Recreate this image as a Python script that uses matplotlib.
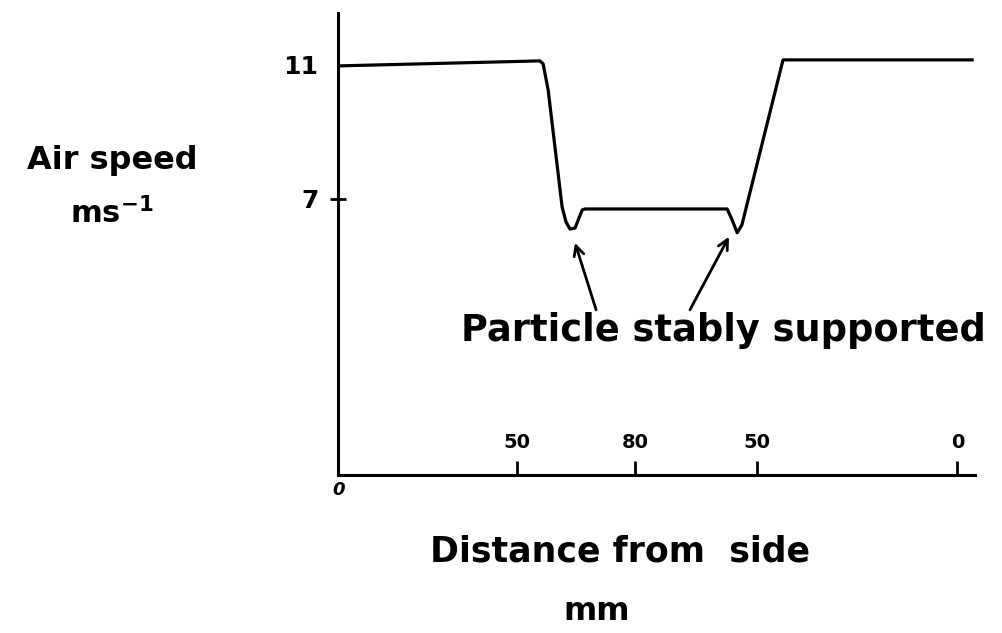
import matplotlib
matplotlib.use("Agg")
import matplotlib.pyplot as plt

# ---- data ----
distance_mm = [0, 56.4, 57.3, 58.7, 62.6, 63.7, 64.8, 66.2, 68.2, 69.0,
               108.7, 110.1, 111.5, 112.8, 124.3, 177.1]
air_speed = [10.97, 11.12, 11.03, 10.25, 6.76, 6.31, 6.10, 6.13, 6.67, 6.70,
             6.70, 6.37, 5.99, 6.22, 11.15, 11.15]

x_tick_pos = [50, 83, 117, 173]
x_tick_labels = ["50", "80", "50", "0"]
y_tick_pos = [7, 11]
y_tick_labels = ["7", "11"]

# annotation arrows: (tail_x, tail_y) -> (head_x, head_y)
arrow_tails = [(72.1, 3.69), (98.3, 3.69)]
arrow_heads = [(66.2, 5.69), (109.2, 5.87)]

plt.rcParams['font.family'] = ['DejaVu Sans']
plt.rcParams['font.weight'] = 'bold'

fig = plt.figure(figsize=(10.02, 6.33), dpi=100)
ax = fig.add_axes([0.3373, 0.2496, 0.6357, 0.7299])

ax.plot(distance_mm, air_speed, color='black', lw=2.3, solid_joinstyle='round')

ax.set_xlim(0, 177.9)
ax.set_ylim(-1.24, 12.55)

for s in ['top', 'right']:
    ax.spines[s].set_visible(False)
for s in ['left', 'bottom']:
    ax.spines[s].set_linewidth(2.2)

ax.set_xticks(x_tick_pos)
ax.set_xticklabels(x_tick_labels, fontsize=14, fontweight='bold')
ax.tick_params(axis='x', direction='in', length=10, width=2, pad=-30)

ax.set_yticks(y_tick_pos)
ax.set_yticklabels(y_tick_labels, fontsize=18)
ax.tick_params(axis='y', direction='inout', length=12, width=2, pad=8)
ax.yaxis.get_major_ticks()[1].tick1line.set_visible(False)

# origin label
ax.text(0.3, -1.7, "0", fontsize=13, fontweight='bold', ha='center', va='center',
        fontstyle='italic')

for (tx, ty), (hx, hy) in zip(arrow_tails, arrow_heads):
    ax.annotate("", xy=(hx, hy), xytext=(tx, ty),
                arrowprops=dict(arrowstyle='->', color='black', lw=2,
                                mutation_scale=18, shrinkA=0, shrinkB=0))

fig.text(723 / 1002, 1 - 330 / 633, "Particle stably supported", fontsize=26.5,
         fontweight='bold', ha='center', va='center')
fig.text(112 / 1002, 1 - 160 / 633, "Air speed", fontsize=23,
         fontweight='bold', ha='center', va='center')
fig.text(112 / 1002, 1 - 213 / 633, r"ms$^{\mathbf{-1}}$", fontsize=22,
         fontweight='bold', ha='center', va='center')
fig.text(620 / 1002, 1 - 552 / 633, "Distance from  side", fontsize=25,
         fontweight='bold', ha='center', va='center')
fig.text(597 / 1002, 1 - 612 / 633, "mm", fontsize=23,
         fontweight='bold', ha='center', va='center')

fig.savefig("out.png", dpi=100)
